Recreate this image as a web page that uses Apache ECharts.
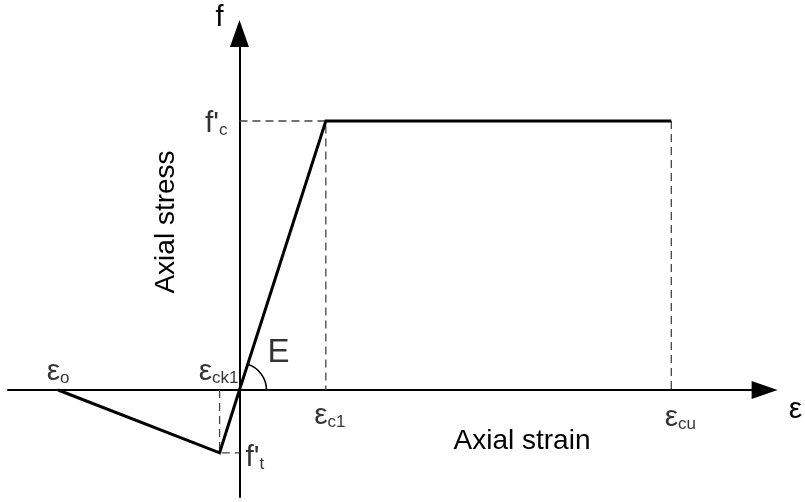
<!DOCTYPE html>
<html>
<head>
<meta charset="utf-8">
<script src="https://cdn.jsdelivr.net/npm/echarts@6/dist/echarts.min.js"></script>
<style>
  html, body { margin: 0; padding: 0; background: #fff; }
  #chart { width: 805px; height: 502px; }
</style>
</head>
<body>
<div id="chart"></div>
<script>
// Idealised concrete law: tension softening, linear elastic branch, perfectly plastic plateau.
const pointNames   = ['εo', 'εck1', 'origin', 'εc1', 'εcu'];
const strainValues = [-0.0042, -0.00046, 0, 0.002, 0.010];
const stressValues = [0, -7, 0, 30, 30];

// Axis extents (strain, stress)
const strainRange = [-0.00536, 0.01186];
const stressRange = [-11.93, 38.25];

// Annotation texts (rich-text markup)
const labelTexts = {
  eo:   '{m|ε}{s|o}',
  eck1: '{m|ε}{s|ck1}',
  ec1:  '{m|ε}{s|c1}',
  ecu:  '{m|ε}{s|cu}',
  fc:   "{m|f'}{s|c}",
  ft:   "{m|f'}{s|t}",
  E:    '{e|E}'
};
const axisTitles = { x: 'Axial strain', y: 'Axial stress' };
const axisNames = { x: 'ε', y: 'f' };

const FONT = "'Liberation Sans', Arial, Helvetica, sans-serif";

const eo = strainValues[0], eck1 = strainValues[1], ec1 = strainValues[3], ecu = strainValues[4];
const ft = stressValues[1], fc = stressValues[3];

const curve = strainValues.map((s, i) => [s, stressValues[i]]);

const rich = {
  m: { fontSize: 30, lineHeight: 30, padding: [0, 0, 4, 0], verticalAlign: 'top', fontFamily: FONT, color: '#000' },
  s: { fontSize: 17, lineHeight: 17, verticalAlign: 'bottom', fontFamily: FONT, color: '#000' },
  e: { fontSize: 33, lineHeight: 33, fontFamily: FONT, color: '#000' }
};

const labelPoints = [
  { value: [eo, 0],   text: labelTexts.eo,   position: 'top',    distance: 3,  offset: [0, 0] },
  { value: [eck1, 0], text: labelTexts.eck1, position: 'top',    distance: 3,  offset: [-1, 0] },
  { value: [ec1, 0],  text: labelTexts.ec1,  position: 'bottom', distance: 11, offset: [4, 0] },
  { value: [ecu, 0],  text: labelTexts.ecu,  position: 'bottom', distance: 13, offset: [9, 0] },
  { value: [0, fc],   text: labelTexts.fc,   position: 'left',   distance: 12, offset: [0, 3] },
  { value: [0, ft],   text: labelTexts.ft,   position: 'right',  distance: 6,  offset: [0, 5] },
  { value: [0, 0],    text: labelTexts.E,    position: 'inside', distance: 0,  offset: [39, -37] }
].map(d => ({
  value: d.value,
  label: {
    show: true, position: d.position, distance: d.distance, offset: d.offset,
    formatter: d.text, rich: rich, color: '#000', fontFamily: FONT
  }
}));

const dashStyle = { color: '#444', width: 1.3, type: [8, 5] };
const dashSeries = (data) => ({
  type: 'line', data: data, symbol: 'none', silent: true, z: 1,
  lineStyle: dashStyle, animation: false
});

const chart = echarts.init(document.getElementById('chart'), null, { renderer: 'canvas' });

chart.setOption({
  animation: false,
  backgroundColor: '#fff',
  grid: { left: 8, right: 48, top: 47, bottom: 5, containLabel: false },
  xAxis: {
    type: 'value', min: strainRange[0], max: strainRange[1],
    name: axisNames.x, nameLocation: 'end', nameGap: 37,
    nameTextStyle: { fontSize: 30, fontFamily: FONT, color: '#000', align: 'left', verticalAlign: 'top', padding: [5, 0, 0, 0] },
    axisLine: { onZero: true, lineStyle: { color: '#000', width: 2 }, symbol: ['none', 'triangle'], symbolSize: [18, 26], symbolOffset: [0, 13] },
    axisTick: { show: false }, axisLabel: { show: false }, splitLine: { show: false }
  },
  yAxis: {
    type: 'value', min: stressRange[0], max: stressRange[1],
    name: axisNames.y, nameLocation: 'end', nameGap: 29,
    nameTextStyle: { fontSize: 29, fontFamily: FONT, color: '#000', align: 'right', verticalAlign: 'middle', padding: [0, 16, 0, 0] },
    axisLine: { onZero: true, lineStyle: { color: '#000', width: 2 }, symbol: ['none', 'triangle'], symbolSize: [19, 27], symbolOffset: [0, 13.5] },
    axisTick: { show: false }, axisLabel: { show: false }, splitLine: { show: false }
  },
  graphic: [
    { type: 'text', x: 522, y: 441, style: { text: axisTitles.x, font: '28px ' + FONT, fill: '#000', align: 'center', verticalAlign: 'middle' } },
    { type: 'text', x: 166, y: 222, rotation: Math.PI / 2, style: { text: axisTitles.y, font: '28px ' + FONT, fill: '#000', align: 'center', verticalAlign: 'middle' } }
  ],
  series: [
    dashSeries([[eck1, 0], [eck1, ft], [0, ft]]),
    dashSeries([[0, fc], [ec1, fc], [ec1, 0]]),
    dashSeries([[ecu, fc], [ecu, 0]]),
    {
      type: 'line', data: curve, symbol: 'none', z: 3,
      lineStyle: { color: '#000', width: 3, join: 'miter' }
    },
    {
      // angle mark for the elastic modulus E
      type: 'custom', coordinateSystem: 'cartesian2d', z: 3, clip: false,
      data: [[0, 0]],
      renderItem: function (params, api) {
        const p0 = api.coord([0, 0]);
        const p1 = api.coord([ec1, fc]);
        const ang = Math.atan2(p0[1] - p1[1], p1[0] - p0[0]);
        return {
          type: 'arc',
          shape: { cx: p0[0], cy: p0[1], r: 27, startAngle: -ang, endAngle: 0, clockwise: true },
          style: { stroke: '#000', lineWidth: 1.6, fill: null }
        };
      }
    },
    {
      type: 'scatter', data: labelPoints, symbolSize: 0, z: 5, silent: true
    }
  ]
});
</script>
</body>
</html>
